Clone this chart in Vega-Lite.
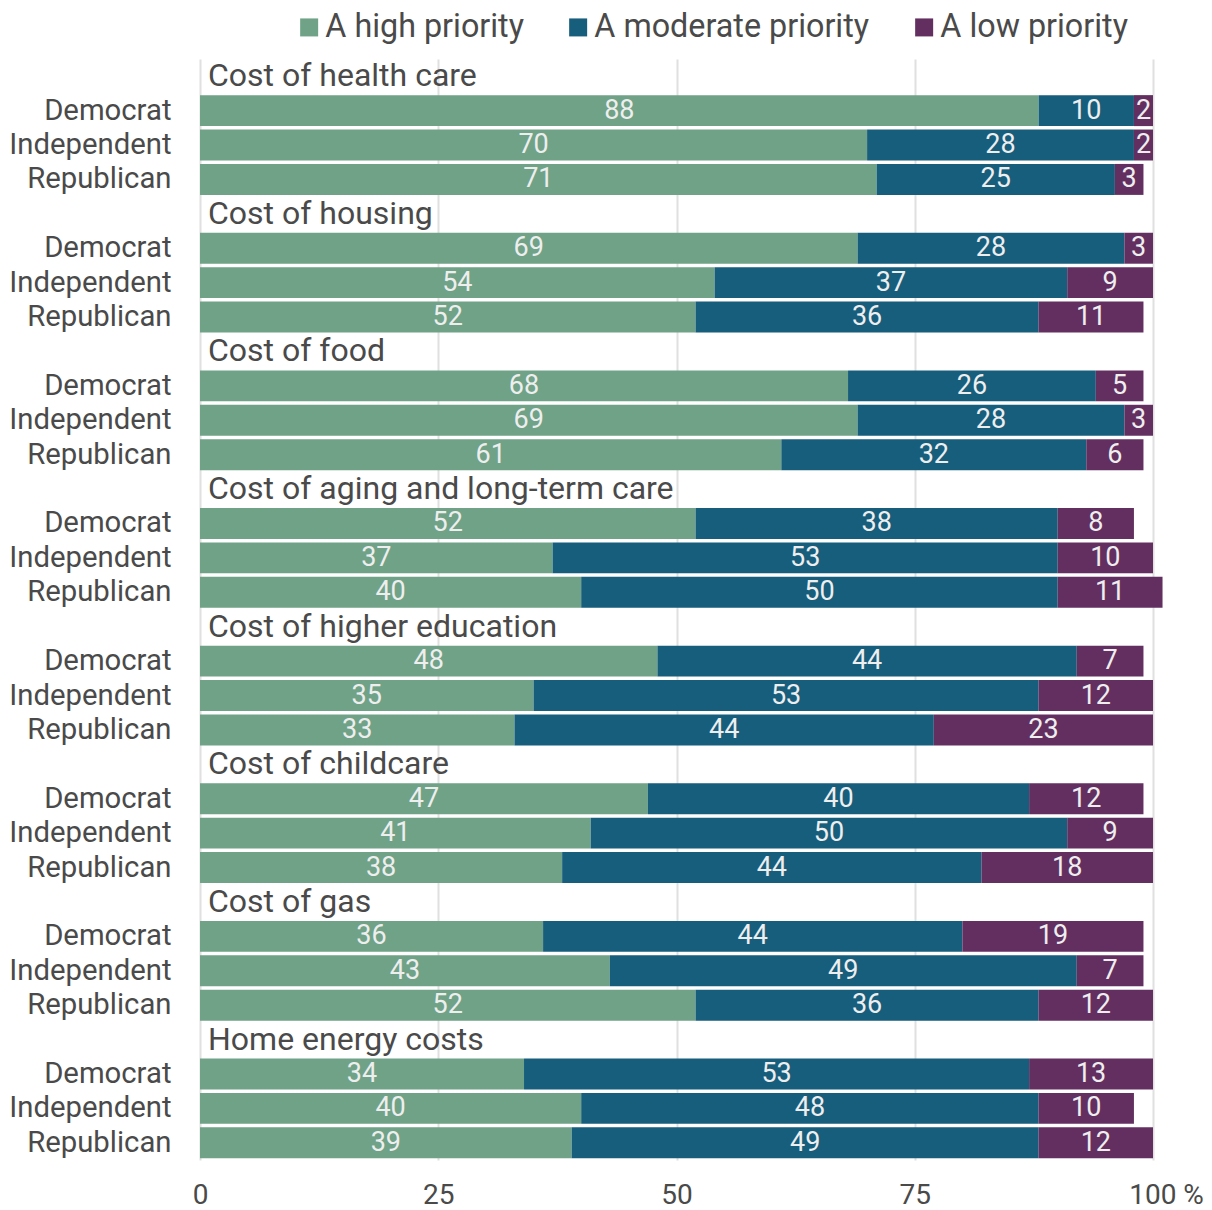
{
  "$schema": "https://vega.github.io/schema/vega-lite/v6.json",
  "autosize": "none",
  "width": 953,
  "height": 1101,
  "padding": {"left": 200, "top": 59, "right": 59, "bottom": 50},
  "config": {
    "view": {"stroke": null},
    "font": "Roboto",
    "axis": {"labelFont": "Roboto", "labelColor": "#4a4a4a"},
    "legend": {"labelFont": "Roboto", "labelColor": "#4a4a4a"}
  },
  "datasets": {
    "bars": [
      {"cat": "Cost of health care", "party": "Democrat", "high": 88, "moderate": 10, "low": 2},
      {"cat": "Cost of health care", "party": "Independent", "high": 70, "moderate": 28, "low": 2},
      {"cat": "Cost of health care", "party": "Republican", "high": 71, "moderate": 25, "low": 3},
      {"cat": "Cost of housing", "party": "Democrat", "high": 69, "moderate": 28, "low": 3},
      {"cat": "Cost of housing", "party": "Independent", "high": 54, "moderate": 37, "low": 9},
      {"cat": "Cost of housing", "party": "Republican", "high": 52, "moderate": 36, "low": 11},
      {"cat": "Cost of food", "party": "Democrat", "high": 68, "moderate": 26, "low": 5},
      {"cat": "Cost of food", "party": "Independent", "high": 69, "moderate": 28, "low": 3},
      {"cat": "Cost of food", "party": "Republican", "high": 61, "moderate": 32, "low": 6},
      {"cat": "Cost of aging and long-term care", "party": "Democrat", "high": 52, "moderate": 38, "low": 8},
      {"cat": "Cost of aging and long-term care", "party": "Independent", "high": 37, "moderate": 53, "low": 10},
      {"cat": "Cost of aging and long-term care", "party": "Republican", "high": 40, "moderate": 50, "low": 11},
      {"cat": "Cost of higher education", "party": "Democrat", "high": 48, "moderate": 44, "low": 7},
      {"cat": "Cost of higher education", "party": "Independent", "high": 35, "moderate": 53, "low": 12},
      {"cat": "Cost of higher education", "party": "Republican", "high": 33, "moderate": 44, "low": 23},
      {"cat": "Cost of childcare", "party": "Democrat", "high": 47, "moderate": 40, "low": 12},
      {"cat": "Cost of childcare", "party": "Independent", "high": 41, "moderate": 50, "low": 9},
      {"cat": "Cost of childcare", "party": "Republican", "high": 38, "moderate": 44, "low": 18},
      {"cat": "Cost of gas", "party": "Democrat", "high": 36, "moderate": 44, "low": 19},
      {"cat": "Cost of gas", "party": "Independent", "high": 43, "moderate": 49, "low": 7},
      {"cat": "Cost of gas", "party": "Republican", "high": 52, "moderate": 36, "low": 12},
      {"cat": "Home energy costs", "party": "Democrat", "high": 34, "moderate": 53, "low": 13},
      {"cat": "Home energy costs", "party": "Independent", "high": 40, "moderate": 48, "low": 10},
      {"cat": "Home energy costs", "party": "Republican", "high": 39, "moderate": 49, "low": 12}
    ],
    "heads": [
      {"cat": "Cost of health care"},
      {"cat": "Cost of housing"},
      {"cat": "Cost of food"},
      {"cat": "Cost of aging and long-term care"},
      {"cat": "Cost of higher education"},
      {"cat": "Cost of childcare"},
      {"cat": "Cost of gas"},
      {"cat": "Home energy costs"}
    ]
  },
  "layer": [
    {
      "data": {"name": "bars"},
      "transform": [
        {"fold": ["high", "moderate", "low"], "as": ["priority", "value"]},
        {"calculate": "datum.cat + '|' + datum.party", "as": "key"},
        {"calculate": "indexof(['high','moderate','low'], datum.priority)", "as": "ord"},
        {"stack": "value", "groupby": ["key"], "sort": [{"field": "ord", "order": "ascending"}], "as": ["x0", "x1"]},
        {"calculate": "(datum.x0 + datum.x1) / 2", "as": "mid"}
      ],
      "layer": [
        {
          "mark": {"type": "bar"},
          "encoding": {
            "x": {
              "field": "x0", "type": "quantitative",
              "scale": {"domain": [0, 100], "nice": false, "zero": true},
              "axis": {
                "values": [0, 25, 50, 75, 100],
                "title": null,
                "domain": false,
                "ticks": false,
                "labelFontSize": 28,
                "labelPadding": 21,
                "labelFlush": false,
                "labelExpr": "datum.value == 100 ? '100 %' : datum.label",
                "labelOffset": {"condition": {"test": "datum.value == 100", "value": 13}, "value": 0},
                "grid": true,
                "gridColor": "#e0e0e0",
                "gridWidth": 2
              }
            },
            "x2": {"field": "x1"},
            "y": {
              "field": "key", "type": "nominal",
              "scale": {
                "paddingInner": 0.1,
                "paddingOuter": 0.05,
                "domain": [
                  "Cost of health care|", "Cost of health care|Democrat", "Cost of health care|Independent", "Cost of health care|Republican",
                  "Cost of housing|", "Cost of housing|Democrat", "Cost of housing|Independent", "Cost of housing|Republican",
                  "Cost of food|", "Cost of food|Democrat", "Cost of food|Independent", "Cost of food|Republican",
                  "Cost of aging and long-term care|", "Cost of aging and long-term care|Democrat", "Cost of aging and long-term care|Independent", "Cost of aging and long-term care|Republican",
                  "Cost of higher education|", "Cost of higher education|Democrat", "Cost of higher education|Independent", "Cost of higher education|Republican",
                  "Cost of childcare|", "Cost of childcare|Democrat", "Cost of childcare|Independent", "Cost of childcare|Republican",
                  "Cost of gas|", "Cost of gas|Democrat", "Cost of gas|Independent", "Cost of gas|Republican",
                  "Home energy costs|", "Home energy costs|Democrat", "Home energy costs|Independent", "Home energy costs|Republican"
                ]
              },
              "axis": {
                "title": null,
                "domain": false,
                "ticks": false,
                "labelFontSize": 29.3,
                "labelPadding": 29,
                "labelExpr": "split(datum.value, '|')[1]"
              }
            },
            "color": {
              "field": "priority", "type": "nominal",
              "scale": {"domain": ["high", "moderate", "low"], "range": ["#6fa287", "#175d7c", "#622f60"]},
              "legend": {
                "title": null,
                "orient": "none",
                "direction": "horizontal",
                "legendX": 93,
                "legendY": -48,
                "symbolType": "square",
                "symbolSize": 324,
                "symbolStrokeWidth": 0,
                "labelFontSize": 32.3,
                "labelLimit": 600,
                "labelOffset": 0,
                "columnPadding": 38,
                "labelExpr": "datum.value == 'high' ? 'A high priority' : datum.value == 'moderate' ? 'A moderate priority' : 'A low priority'"
              }
            }
          }
        },
        {
          "mark": {"type": "text", "align": "center", "baseline": "middle", "fontSize": 27, "color": "#eeeeee", "font": "Roboto"},
          "encoding": {
            "x": {"field": "mid", "type": "quantitative"},
            "y": {"field": "key", "type": "nominal"},
            "text": {"field": "value", "type": "quantitative"}
          }
        }
      ]
    },
    {
      "data": {"name": "heads"},
      "transform": [
        {"calculate": "datum.cat + '|'", "as": "key"}
      ],
      "mark": {"type": "text", "align": "left", "baseline": "middle", "dx": 8, "fontSize": 32, "color": "#4a4a4a", "font": "Roboto"},
      "encoding": {
        "x": {"datum": 0, "type": "quantitative"},
        "y": {"field": "key", "type": "nominal"},
        "text": {"field": "cat", "type": "nominal"}
      }
    }
  ]
}
